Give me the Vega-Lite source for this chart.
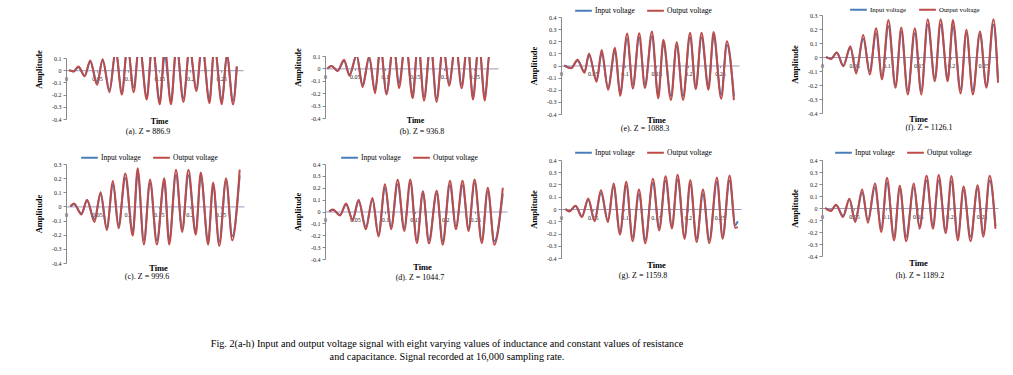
{
"$schema": "https://vega.github.io/schema/vega-lite/v6.json",
"background": "white",
"padding": {"left": 34, "top": 0, "right": 2, "bottom": 5},
"title": {"text": ["Fig. 2(a-h) Input and output voltage signal with eight varying values of inductance and constant values of resistance", "and capacitance. Signal recorded at 16,000 sampling rate."], "orient": "bottom", "anchor": "start", "align": "center", "frame": "group", "dx": 381, "offset": 57, "fontSize": 10.2, "fontWeight": "normal", "lineHeight": 13, "font": "Liberation Serif", "color": "#000"},
"datasets": {
"a": [{"t":0.005,"inp":0,"out":0},{"t":0.012,"inp":-0.01,"out":-0.01},{"t":0.02,"inp":0.025,"out":0.03},{"t":0.03,"inp":-0.045,"out":-0.05},{"t":0.039,"inp":0.07,"out":0.08},{"t":0.05,"inp":-0.1,"out":-0.12},{"t":0.059,"inp":0.08,"out":0.09},{"t":0.07,"inp":-0.16,"out":-0.18},{"t":0.08,"inp":0.15,"out":0.17},{"t":0.09,"inp":-0.18,"out":-0.2},{"t":0.099,"inp":0.19,"out":0.22},{"t":0.109,"inp":-0.14,"out":-0.18},{"t":0.118,"inp":0.21,"out":0.24},{"t":0.13,"inp":-0.21,"out":-0.24},{"t":0.139,"inp":0.2,"out":0.24},{"t":0.151,"inp":-0.25,"out":-0.28},{"t":0.159,"inp":0.12,"out":0.2},{"t":0.169,"inp":-0.25,"out":-0.28},{"t":0.178,"inp":0.19,"out":0.22},{"t":0.189,"inp":-0.23,"out":-0.26},{"t":0.199,"inp":0.17,"out":0.2},{"t":0.21,"inp":-0.15,"out":-0.17},{"t":0.219,"inp":0.2,"out":0.24},{"t":0.231,"inp":-0.24,"out":-0.27},{"t":0.239,"inp":0.19,"out":0.22},{"t":0.251,"inp":-0.25,"out":-0.28},{"t":0.259,"inp":0.12,"out":0.13},{"t":0.269,"inp":-0.25,"out":-0.28},{"t":0.275,"inp":0.03,"out":0.03}],
"b": [{"t":0.004,"inp":0,"out":0},{"t":0.011,"inp":0.02,"out":0.02},{"t":0.021,"inp":-0.02,"out":-0.02},{"t":0.032,"inp":0.06,"out":0.07},{"t":0.041,"inp":-0.05,"out":-0.06},{"t":0.053,"inp":0.1,"out":0.11},{"t":0.063,"inp":-0.13,"out":-0.15},{"t":0.074,"inp":0.08,"out":0.1},{"t":0.084,"inp":-0.18,"out":-0.2},{"t":0.093,"inp":0.17,"out":0.2},{"t":0.103,"inp":-0.19,"out":-0.21},{"t":0.115,"inp":0.19,"out":0.22},{"t":0.124,"inp":-0.12,"out":-0.16},{"t":0.135,"inp":0.21,"out":0.24},{"t":0.147,"inp":-0.21,"out":-0.24},{"t":0.156,"inp":0.21,"out":0.24},{"t":0.166,"inp":-0.23,"out":-0.26},{"t":0.177,"inp":0.19,"out":0.22},{"t":0.187,"inp":-0.24,"out":-0.27},{"t":0.198,"inp":0.17,"out":0.2},{"t":0.208,"inp":-0.12,"out":-0.14},{"t":0.219,"inp":0.19,"out":0.22},{"t":0.229,"inp":-0.13,"out":-0.16},{"t":0.239,"inp":0.19,"out":0.22},{"t":0.248,"inp":-0.22,"out":-0.25},{"t":0.258,"inp":0.19,"out":0.22},{"t":0.268,"inp":-0.23,"out":-0.26},{"t":0.276,"inp":0.12,"out":0.14},{"t":0.282,"inp":0.12,"out":0.15}],
"c": [{"t":0.007,"inp":0,"out":0},{"t":0.013,"inp":0.015,"out":0.02},{"t":0.025,"inp":-0.05,"out":-0.057},{"t":0.034,"inp":0.04,"out":0.048},{"t":0.046,"inp":-0.09,"out":-0.11},{"t":0.056,"inp":0.085,"out":0.1},{"t":0.066,"inp":-0.15,"out":-0.167},{"t":0.076,"inp":0.155,"out":0.18},{"t":0.085,"inp":-0.13,"out":-0.155},{"t":0.096,"inp":0.2,"out":0.233},{"t":0.108,"inp":-0.18,"out":-0.207},{"t":0.116,"inp":0.23,"out":0.27},{"t":0.126,"inp":-0.24,"out":-0.27},{"t":0.136,"inp":0.165,"out":0.19},{"t":0.147,"inp":-0.24,"out":-0.27},{"t":0.159,"inp":0.17,"out":0.2},{"t":0.167,"inp":-0.24,"out":-0.27},{"t":0.178,"inp":0.22,"out":0.26},{"t":0.188,"inp":-0.16,"out":-0.18},{"t":0.198,"inp":0.22,"out":0.26},{"t":0.21,"inp":-0.18,"out":-0.2},{"t":0.218,"inp":0.21,"out":0.24},{"t":0.23,"inp":-0.24,"out":-0.27},{"t":0.238,"inp":0.15,"out":0.17},{"t":0.248,"inp":-0.25,"out":-0.28},{"t":0.259,"inp":0.18,"out":0.2},{"t":0.269,"inp":-0.21,"out":-0.24},{"t":0.281,"inp":0.22,"out":0.26}],
"d": [{"t":0.007,"inp":0,"out":0},{"t":0.013,"inp":0.015,"out":0.017},{"t":0.025,"inp":-0.03,"out":-0.033},{"t":0.035,"inp":0.06,"out":0.067},{"t":0.046,"inp":-0.065,"out":-0.075},{"t":0.056,"inp":0.085,"out":0.1},{"t":0.068,"inp":-0.13,"out":-0.15},{"t":0.079,"inp":0.1,"out":0.114},{"t":0.089,"inp":-0.19,"out":-0.21},{"t":0.1,"inp":0.2,"out":0.23},{"t":0.11,"inp":-0.13,"out":-0.15},{"t":0.121,"inp":0.23,"out":0.267},{"t":0.132,"inp":-0.14,"out":-0.164},{"t":0.142,"inp":0.24,"out":0.27},{"t":0.153,"inp":-0.24,"out":-0.267},{"t":0.163,"inp":0.15,"out":0.17},{"t":0.173,"inp":-0.24,"out":-0.27},{"t":0.186,"inp":0.15,"out":0.175},{"t":0.196,"inp":-0.25,"out":-0.28},{"t":0.208,"inp":0.22,"out":0.26},{"t":0.218,"inp":-0.13,"out":-0.15},{"t":0.229,"inp":0.22,"out":0.26},{"t":0.239,"inp":-0.14,"out":-0.164},{"t":0.249,"inp":0.24,"out":0.27},{"t":0.261,"inp":-0.24,"out":-0.267},{"t":0.271,"inp":0.17,"out":0.2},{"t":0.282,"inp":-0.25,"out":-0.28},{"t":0.296,"inp":0.15,"out":0.2}],
"e": [{"t":0.005,"inp":0,"out":0},{"t":0.016,"inp":-0.02,"out":-0.023},{"t":0.026,"inp":0.04,"out":0.048},{"t":0.037,"inp":-0.05,"out":-0.06},{"t":0.044,"inp":0.085,"out":0.1},{"t":0.056,"inp":-0.12,"out":-0.135},{"t":0.064,"inp":0.1,"out":0.127},{"t":0.074,"inp":-0.18,"out":-0.2},{"t":0.085,"inp":0.12,"out":0.146},{"t":0.093,"inp":-0.22,"out":-0.25},{"t":0.104,"inp":0.22,"out":0.263},{"t":0.113,"inp":-0.16,"out":-0.19},{"t":0.123,"inp":0.23,"out":0.267},{"t":0.132,"inp":-0.16,"out":-0.185},{"t":0.143,"inp":0.24,"out":0.28},{"t":0.153,"inp":-0.24,"out":-0.27},{"t":0.161,"inp":0.18,"out":0.212},{"t":0.173,"inp":-0.25,"out":-0.285},{"t":0.182,"inp":0.16,"out":0.192},{"t":0.192,"inp":-0.25,"out":-0.285},{"t":0.203,"inp":0.23,"out":0.27},{"t":0.212,"inp":-0.17,"out":-0.195},{"t":0.221,"inp":0.23,"out":0.27},{"t":0.232,"inp":-0.17,"out":-0.2},{"t":0.24,"inp":0.24,"out":0.276},{"t":0.252,"inp":-0.24,"out":-0.275},{"t":0.261,"inp":0.17,"out":0.2},{"t":0.272,"inp":-0.25,"out":-0.285}],
"f": [{"t":0.006,"inp":0,"out":0},{"t":0.014,"inp":-0.012,"out":-0.014},{"t":0.023,"inp":0.03,"out":0.033},{"t":0.033,"inp":-0.06,"out":-0.066},{"t":0.044,"inp":0.065,"out":0.076},{"t":0.053,"inp":-0.1,"out":-0.118},{"t":0.064,"inp":0.13,"out":0.158},{"t":0.074,"inp":-0.1,"out":-0.125},{"t":0.084,"inp":0.17,"out":0.206},{"t":0.093,"inp":-0.14,"out":-0.16},{"t":0.103,"inp":0.22,"out":0.265},{"t":0.114,"inp":-0.2,"out":-0.22},{"t":0.123,"inp":0.18,"out":0.21},{"t":0.133,"inp":-0.24,"out":-0.267},{"t":0.144,"inp":0.17,"out":0.206},{"t":0.154,"inp":-0.24,"out":-0.267},{"t":0.164,"inp":0.23,"out":0.27},{"t":0.175,"inp":-0.15,"out":-0.173},{"t":0.184,"inp":0.23,"out":0.27},{"t":0.195,"inp":-0.15,"out":-0.173},{"t":0.203,"inp":0.22,"out":0.265},{"t":0.215,"inp":-0.23,"out":-0.26},{"t":0.224,"inp":0.17,"out":0.194},{"t":0.234,"inp":-0.24,"out":-0.267},{"t":0.245,"inp":0.16,"out":0.182},{"t":0.255,"inp":-0.2,"out":-0.22},{"t":0.266,"inp":0.23,"out":0.27},{"t":0.273,"inp":-0.16,"out":-0.184}],
"g": [{"t":0.007,"inp":0,"out":0},{"t":0.013,"inp":-0.018,"out":-0.02},{"t":0.023,"inp":0.025,"out":0.027},{"t":0.033,"inp":-0.06,"out":-0.066},{"t":0.043,"inp":0.075,"out":0.085},{"t":0.053,"inp":-0.09,"out":-0.1},{"t":0.063,"inp":0.13,"out":0.153},{"t":0.074,"inp":-0.09,"out":-0.107},{"t":0.083,"inp":0.18,"out":0.208},{"t":0.093,"inp":-0.19,"out":-0.21},{"t":0.103,"inp":0.19,"out":0.222},{"t":0.113,"inp":-0.23,"out":-0.263},{"t":0.123,"inp":0.12,"out":0.16},{"t":0.133,"inp":-0.25,"out":-0.28},{"t":0.145,"inp":0.21,"out":0.247},{"t":0.155,"inp":-0.15,"out":-0.175},{"t":0.165,"inp":0.23,"out":0.268},{"t":0.175,"inp":-0.14,"out":-0.16},{"t":0.184,"inp":0.24,"out":0.28},{"t":0.195,"inp":-0.22,"out":-0.244},{"t":0.204,"inp":0.2,"out":0.236},{"t":0.214,"inp":-0.24,"out":-0.27},{"t":0.224,"inp":0.12,"out":0.16},{"t":0.234,"inp":-0.25,"out":-0.28},{"t":0.246,"inp":0.22,"out":0.258},{"t":0.255,"inp":-0.22,"out":-0.244},{"t":0.266,"inp":0.23,"out":0.274},{"t":0.275,"inp":-0.13,"out":-0.153},{"t":0.279,"inp":-0.1,"out":-0.148}],
"h": [{"t":0.005,"inp":0,"out":0},{"t":0.014,"inp":-0.02,"out":-0.025},{"t":0.022,"inp":0.025,"out":0.028},{"t":0.033,"inp":-0.065,"out":-0.075},{"t":0.043,"inp":0.07,"out":0.078},{"t":0.052,"inp":-0.1,"out":-0.117},{"t":0.063,"inp":0.13,"out":0.154},{"t":0.072,"inp":-0.1,"out":-0.123},{"t":0.083,"inp":0.17,"out":0.204},{"t":0.093,"inp":-0.17,"out":-0.2},{"t":0.102,"inp":0.21,"out":0.252},{"t":0.113,"inp":-0.24,"out":-0.27},{"t":0.122,"inp":0.16,"out":0.185},{"t":0.132,"inp":-0.24,"out":-0.277},{"t":0.144,"inp":0.17,"out":0.204},{"t":0.153,"inp":-0.15,"out":-0.173},{"t":0.164,"inp":0.23,"out":0.268},{"t":0.174,"inp":-0.15,"out":-0.173},{"t":0.183,"inp":0.23,"out":0.274},{"t":0.194,"inp":-0.18,"out":-0.21},{"t":0.203,"inp":0.22,"out":0.266},{"t":0.213,"inp":-0.24,"out":-0.27},{"t":0.222,"inp":0.15,"out":0.18},{"t":0.233,"inp":-0.24,"out":-0.277},{"t":0.244,"inp":0.16,"out":0.19},{"t":0.253,"inp":-0.21,"out":-0.24},{"t":0.263,"inp":0.23,"out":0.268},{"t":0.272,"inp":-0.15,"out":-0.173}]
},
"columns": 4,
"spacing": 0,
"bounds": "flush",
"align": "each",
"resolve": {"scale": {"color": "independent"}, "legend": {"color": "independent"}},
"concat": [
{"data": {"name": "a"}, "width": 259, "height": 103,
 "transform": [{"fold": ["inp", "out"], "as": ["s", "v"]}],
 "mark": {"type": "line", "interpolate": "monotone", "strokeWidth": 2, "clip": true},
 "encoding": {
  "x": {"field": "t", "type": "quantitative", "scale": {"domain": [0, 0.285], "range": [0, 177], "nice": false}, "axis": {"title": "Time", "offset": -89.8, "titleY": 51.5, "titleX": 93, "titleFontSize": 8, "values": [0, 0.05, 0.1, 0.15, 0.2, 0.25], "format": "~g"}},
  "y": {"field": "v", "type": "quantitative", "scale": {"domain": [-0.4, 0.1], "range": [62, 1], "nice": false}, "axis": {"title": "Amplitude", "titleY": 12, "values": [-0.4, -0.3, -0.2, -0.1, 0, 0.1], "format": "~g", "labelExpr": "replace(datum.label, '\u2212', '-')"}},
  "color": {"field": "s", "type": "nominal", "scale": {"domain": ["inp", "out"], "range": ["#4A7EBB", "#BE4B48"]}, "legend": null}
 },
 "title": {"text": "(a). Z = 886.9", "offset": -32.5, "anchor": "start", "align": "center", "dx": 82}},
{"data": {"name": "b"}, "width": 236, "height": 103,
 "transform": [{"fold": ["inp", "out"], "as": ["s", "v"]}],
 "mark": {"type": "line", "interpolate": "monotone", "strokeWidth": 2, "clip": true},
 "encoding": {
  "x": {"field": "t", "type": "quantitative", "scale": {"domain": [0, 0.29], "range": [0, 173], "nice": false}, "axis": {"title": "Time", "offset": -91.6, "titleY": 52, "titleX": 90, "titleFontSize": 8, "values": [0, 0.05, 0.1, 0.15, 0.2, 0.25], "format": "~g"}},
  "y": {"field": "v", "type": "quantitative", "scale": {"domain": [-0.4, 0.1], "range": [61, -1], "nice": false}, "axis": {"title": "Amplitude", "titleY": 10, "values": [-0.4, -0.3, -0.2, -0.1, 0, 0.1], "format": "~g", "labelExpr": "replace(datum.label, '\u2212', '-')"}},
  "color": {"field": "s", "type": "nominal", "scale": {"domain": ["inp", "out"], "range": ["#4A7EBB", "#BE4B48"]}, "legend": null}
 },
 "title": {"text": "(b). Z = 936.8", "offset": -32.5, "anchor": "start", "align": "center", "dx": 97}},
{"data": {"name": "e"}, "width": 261, "height": 103,
 "transform": [{"fold": ["inp", "out"], "as": ["s", "v"]}],
 "mark": {"type": "line", "interpolate": "monotone", "strokeWidth": 2, "clip": false},
 "encoding": {
  "x": {"field": "t", "type": "quantitative", "scale": {"domain": [0, 0.28], "range": [0, 178], "nice": false}, "axis": {"title": "Time", "offset": -94.5, "titleY": 54, "titleX": 95, "values": [0, 0.05, 0.1, 0.15, 0.2, 0.25], "format": "~g"}},
  "y": {"field": "v", "type": "quantitative", "scale": {"domain": [-0.4, 0.4], "range": [57, -40], "nice": false}, "axis": {"title": "Amplitude", "values": [-0.4, -0.3, -0.2, -0.1, 0, 0.1, 0.2, 0.3, 0.4], "format": "~g", "labelExpr": "replace(datum.label, '\u2212', '-')"}},
  "color": {"field": "s", "type": "nominal", "scale": {"domain": ["inp", "out"], "range": ["#4A7EBB", "#BE4B48"]}, "legend": {"orient": "none", "legendX": 13, "legendY": -56, "direction": "horizontal", "title": null, "labelExpr": "datum.label == 'inp' ? 'Input voltage' : 'Output voltage'"}}
 },
 "title": {"text": "(e). Z = 1088.3", "offset": -35.5, "anchor": "start", "align": "center", "dx": 84}},
{"data": {"name": "f"}, "width": 178, "height": 103,
 "transform": [{"fold": ["inp", "out"], "as": ["s", "v"]}],
 "mark": {"type": "line", "interpolate": "monotone", "strokeWidth": 2, "clip": false},
 "encoding": {
  "x": {"field": "t", "type": "quantitative", "scale": {"domain": [0, 0.273], "range": [0, 176], "nice": false}, "axis": {"title": "Time", "offset": -103, "titleY": 61, "titleX": 96, "values": [0, 0.05, 0.1, 0.15, 0.2, 0.25], "format": "~g"}},
  "y": {"field": "v", "type": "quantitative", "scale": {"domain": [-0.4, 0.3], "range": [56, -42], "nice": false}, "axis": {"title": "Amplitude", "values": [-0.4, -0.3, -0.2, -0.1, 0, 0.1, 0.2, 0.3], "format": "~g", "labelExpr": "replace(datum.label, '\u2212', '-')"}},
  "color": {"field": "s", "type": "nominal", "scale": {"domain": ["inp", "out"], "range": ["#4A7EBB", "#BE4B48"]}, "legend": {"orient": "none", "legendX": 27, "legendY": -57, "direction": "horizontal", "title": null, "labelFontSize": 6.8, "labelExpr": "datum.label == 'inp' ? 'Input voltage' : 'Output voltage'"}}
 },
 "title": {"text": "(f). Z = 1126.1", "offset": -36.5, "anchor": "start", "align": "center", "dx": 107}},
{"data": {"name": "c"}, "width": 259, "height": 103,
 "transform": [{"fold": ["inp", "out"], "as": ["s", "v"]}],
 "mark": {"type": "line", "interpolate": "monotone", "strokeWidth": 2, "clip": false},
 "encoding": {
  "x": {"field": "t", "type": "quantitative", "scale": {"domain": [0, 0.288], "range": [0, 178], "nice": false}, "axis": {"title": "Time", "offset": -56.6, "titleY": 61.2, "titleX": 92, "values": [0, 0.05, 0.1, 0.15, 0.2, 0.25], "format": "~g"}},
  "y": {"field": "v", "type": "quantitative", "scale": {"domain": [-0.4, 0.3], "range": [103, 4], "nice": false}, "axis": {"title": "Amplitude", "values": [-0.4, -0.3, -0.2, -0.1, 0, 0.1, 0.2, 0.3], "format": "~g", "labelExpr": "replace(datum.label, '\u2212', '-')"}},
  "color": {"field": "s", "type": "nominal", "scale": {"domain": ["inp", "out"], "range": ["#4A7EBB", "#BE4B48"]}, "legend": {"orient": "none", "legendX": 14, "legendY": -12, "direction": "horizontal", "title": null, "labelExpr": "datum.label == 'inp' ? 'Input voltage' : 'Output voltage'"}}
 },
 "title": {"text": "(c). Z = 999.6", "offset": 0.5, "anchor": "start", "align": "center", "dx": 81}},
{"data": {"name": "d"}, "width": 236, "height": 103,
 "transform": [{"fold": ["inp", "out"], "as": ["s", "v"]}],
 "mark": {"type": "line", "interpolate": "monotone", "strokeWidth": 2, "clip": false},
 "encoding": {
  "x": {"field": "t", "type": "quantitative", "scale": {"domain": [0, 0.303], "range": [0, 182], "nice": false}, "axis": {"title": "Time", "offset": -51.5, "titleY": 54.7, "titleX": 97, "values": [0, 0.05, 0.1, 0.15, 0.2, 0.25], "format": "~g"}},
  "y": {"field": "v", "type": "quantitative", "scale": {"domain": [-0.4, 0.4], "range": [99, 4], "nice": false}, "axis": {"title": "Amplitude", "values": [-0.4, -0.3, -0.2, -0.1, 0, 0.1, 0.2, 0.3, 0.4], "format": "~g", "labelExpr": "replace(datum.label, '\u2212', '-')"}},
  "color": {"field": "s", "type": "nominal", "scale": {"domain": ["inp", "out"], "range": ["#4A7EBB", "#BE4B48"]}, "legend": {"orient": "none", "legendX": 15, "legendY": -12, "direction": "horizontal", "title": null, "labelExpr": "datum.label == 'inp' ? 'Input voltage' : 'Output voltage'"}}
 },
 "title": {"text": "(d). Z = 1044.7", "offset": 3.5, "anchor": "start", "align": "center", "dx": 95}},
{"data": {"name": "g"}, "width": 261, "height": 103,
 "transform": [{"fold": ["inp", "out"], "as": ["s", "v"]}],
 "mark": {"type": "line", "interpolate": "monotone", "strokeWidth": 2, "clip": false},
 "encoding": {
  "x": {"field": "t", "type": "quantitative", "scale": {"domain": [0, 0.284], "range": [0, 180], "nice": false}, "axis": {"title": "Time", "offset": -54, "titleY": 55.3, "titleX": 95, "values": [0, 0.05, 0.1, 0.15, 0.2, 0.25], "format": "~g"}},
  "y": {"field": "v", "type": "quantitative", "scale": {"domain": [-0.4, 0.4], "range": [98, 0], "nice": false}, "axis": {"title": "Amplitude", "values": [-0.4, -0.3, -0.2, -0.1, 0, 0.1, 0.2, 0.3, 0.4], "format": "~g", "labelExpr": "replace(datum.label, '\u2212', '-')"}},
  "color": {"field": "s", "type": "nominal", "scale": {"domain": ["inp", "out"], "range": ["#4A7EBB", "#BE4B48"]}, "legend": {"orient": "none", "legendX": 13, "legendY": -17, "direction": "horizontal", "title": null, "labelExpr": "datum.label == 'inp' ? 'Input voltage' : 'Output voltage'"}}
 },
 "title": {"text": "(g). Z = 1159.8", "offset": 3, "anchor": "start", "align": "center", "dx": 82}},
{"data": {"name": "h"}, "width": 178, "height": 103,
 "transform": [{"fold": ["inp", "out"], "as": ["s", "v"]}],
 "mark": {"type": "line", "interpolate": "monotone", "strokeWidth": 2, "clip": false},
 "encoding": {
  "x": {"field": "t", "type": "quantitative", "scale": {"domain": [0, 0.276], "range": [0, 176], "nice": false}, "axis": {"title": "Time", "offset": -55, "titleY": 54, "titleX": 96, "values": [0, 0.05, 0.1, 0.15, 0.2, 0.25], "format": "~g"}},
  "y": {"field": "v", "type": "quantitative", "scale": {"domain": [-0.4, 0.4], "range": [96, 0], "nice": false}, "axis": {"title": "Amplitude", "values": [-0.4, -0.3, -0.2, -0.1, 0, 0.1, 0.2, 0.3, 0.4], "format": "~g", "labelExpr": "replace(datum.label, '\u2212', '-')"}},
  "color": {"field": "s", "type": "nominal", "scale": {"domain": ["inp", "out"], "range": ["#4A7EBB", "#BE4B48"]}, "legend": {"orient": "none", "legendX": 12, "legendY": -17, "direction": "horizontal", "title": null, "labelExpr": "datum.label == 'inp' ? 'Input voltage' : 'Output voltage'"}}
 },
 "title": {"text": "(h). Z = 1189.2", "offset": 5.4, "anchor": "start", "align": "center", "dx": 98}}
],
"config": {
 "view": {"stroke": null},
 "font": "Liberation Serif",
 "axis": {"grid": false, "labelFont": "Liberation Serif", "labelFontSize": 6, "labelColor": "#222222", "titleFont": "Liberation Serif", "titleFontSize": 8.5, "titleFontWeight": "bold", "titleColor": "#000000", "domainColor": "#8a8a8a", "tickColor": "#8a8a8a", "tickSize": 3, "labelPadding": 2, "labelFlush": false, "labelOverlap": false},
 "axisX": {"domainColor": "#9e97b8", "tickSize": 2, "titleBaseline": "middle", "labelPadding": 3},
 "axisY": {"titlePadding": 8},
 "legend": {"symbolType": "stroke", "symbolSize": 280, "symbolStrokeWidth": 2, "labelFont": "Liberation Serif", "labelFontSize": 7.5, "labelOffset": 2, "columnPadding": 8, "padding": 0, "labelColor": "#000000"},
 "title": {"font": "Liberation Serif", "fontSize": 8, "fontWeight": "normal", "orient": "bottom", "frame": "group", "color": "#000000"}
}
}
